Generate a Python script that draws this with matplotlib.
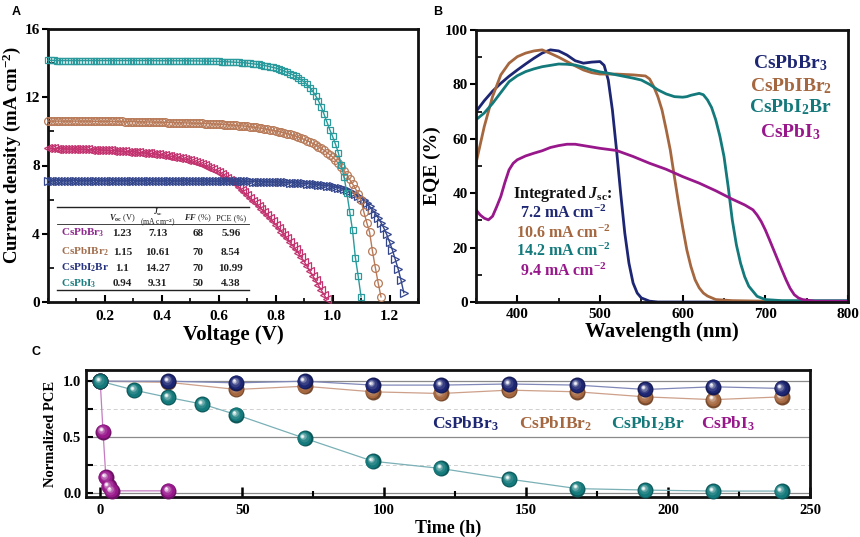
import numpy as np
import matplotlib
matplotlib.use("Agg")
import matplotlib.pyplot as plt
import matplotlib.colors as mcolors
from matplotlib.transforms import offset_copy
from matplotlib.ticker import MultipleLocator

plt.rcParams['font.family'] = ['Liberation Serif', 'DejaVu Serif']
plt.rcParams['font.weight'] = 'bold'
plt.rcParams['mathtext.fontset'] = 'custom'
plt.rcParams['mathtext.rm'] = 'Liberation Serif:bold'
plt.rcParams['mathtext.bf'] = 'Liberation Serif:bold'
plt.rcParams['mathtext.it'] = 'Liberation Serif:italic:bold'
plt.rcParams['mathtext.default'] = 'rm'

# ---------------- Panel A : J-V data (0.01 V sweep step) ----------------
V_STEP = 0.01
jv_cspbi2br = [
    14.16, 14.16, 14.16, 14.15, 14.15, 14.15, 14.15, 14.15, 14.15, 14.15,
    14.15, 14.15, 14.15, 14.15, 14.15, 14.15, 14.15, 14.15, 14.15, 14.15,
    14.15, 14.15, 14.15, 14.15, 14.15, 14.15, 14.15, 14.15, 14.15, 14.15,
    14.15, 14.15, 14.15, 14.15, 14.15, 14.15, 14.15, 14.15, 14.14, 14.14,
    14.14, 14.14, 14.14, 14.14, 14.14, 14.14, 14.14, 14.14, 14.14, 14.14,
    14.13, 14.13, 14.13, 14.13, 14.12, 14.12, 14.12, 14.11, 14.11, 14.10,
    14.10, 14.09, 14.09, 14.08, 14.07, 14.06, 14.05, 14.04, 14.03, 14.02,
    14.00, 13.98, 13.96, 13.94, 13.92, 13.89, 13.86, 13.83, 13.79, 13.75,
    13.71, 13.66, 13.60, 13.53, 13.46, 13.39, 13.31, 13.22, 13.12, 13.01,
    12.90, 12.75, 12.57, 12.36, 12.10, 11.80, 11.45, 11.00, 10.55, 10.10,
    9.70, 9.25, 8.75, 8.05, 7.35, 6.40, 5.30, 4.20, 2.60, 1.50,
    0.30,
]
jv_cspbibr2 = [
    10.60, 10.60, 10.60, 10.60, 10.60, 10.60, 10.60, 10.60, 10.60, 10.60,
    10.60, 10.60, 10.60, 10.60, 10.60, 10.60, 10.59, 10.59, 10.59, 10.59,
    10.59, 10.59, 10.59, 10.58, 10.58, 10.58, 10.58, 10.57, 10.57, 10.57,
    10.57, 10.56, 10.56, 10.56, 10.55, 10.55, 10.55, 10.54, 10.54, 10.54,
    10.53, 10.53, 10.52, 10.52, 10.52, 10.51, 10.51, 10.50, 10.50, 10.49,
    10.49, 10.48, 10.48, 10.47, 10.47, 10.46, 10.45, 10.45, 10.44, 10.43,
    10.42, 10.41, 10.40, 10.39, 10.38, 10.37, 10.35, 10.34, 10.32, 10.31,
    10.29, 10.27, 10.25, 10.23, 10.20, 10.18, 10.15, 10.12, 10.09, 10.06,
    10.03, 9.99, 9.95, 9.91, 9.87, 9.82, 9.77, 9.72, 9.66, 9.60,
    9.53, 9.46, 9.38, 9.30, 9.21, 9.11, 9.00, 8.89, 8.76, 8.63,
    8.50, 8.32, 8.13, 7.92, 7.70, 7.45, 7.18, 6.92, 6.65, 6.32,
    5.95, 5.25, 4.65, 4.08, 2.98, 2.02, 1.12, 0.30,
]
jv_cspbbr3 = [
    7.12, 7.12, 7.12, 7.12, 7.12, 7.12, 7.12, 7.12, 7.12, 7.12,
    7.12, 7.12, 7.12, 7.12, 7.12, 7.12, 7.12, 7.12, 7.12, 7.12,
    7.12, 7.12, 7.11, 7.11, 7.11, 7.11, 7.11, 7.11, 7.11, 7.11,
    7.11, 7.11, 7.11, 7.11, 7.11, 7.11, 7.11, 7.10, 7.10, 7.10,
    7.10, 7.10, 7.10, 7.10, 7.10, 7.10, 7.10, 7.10, 7.10, 7.10,
    7.10, 7.10, 7.09, 7.09, 7.09, 7.09, 7.09, 7.09, 7.09, 7.09,
    7.09, 7.09, 7.08, 7.08, 7.08, 7.08, 7.08, 7.08, 7.07, 7.07,
    7.07, 7.07, 7.06, 7.06, 7.06, 7.05, 7.05, 7.05, 7.04, 7.04,
    7.03, 7.03, 7.02, 7.02, 7.01, 7.00, 6.99, 6.98, 6.97, 6.96,
    6.95, 6.94, 6.93, 6.91, 6.90, 6.88, 6.86, 6.84, 6.82, 6.80,
    6.77, 6.74, 6.70, 6.66, 6.61, 6.55, 6.48, 6.40, 6.31, 6.20,
    6.10, 5.97, 5.80, 5.60, 5.38, 5.17, 4.93, 4.65, 4.33, 3.96,
    3.52, 3.05, 2.50, 1.95, 1.30, 0.55,
]
jv_cspbi3 = [
    9.00, 9.00, 9.00, 8.99, 8.99, 8.98, 8.98, 8.97, 8.97, 8.96,
    8.96, 8.95, 8.95, 8.94, 8.94, 8.93, 8.93, 8.92, 8.92, 8.91,
    8.90, 8.89, 8.88, 8.87, 8.86, 8.85, 8.84, 8.83, 8.82, 8.81,
    8.80, 8.78, 8.77, 8.75, 8.74, 8.72, 8.71, 8.69, 8.67, 8.65,
    8.63, 8.61, 8.58, 8.55, 8.52, 8.49, 8.46, 8.42, 8.38, 8.34,
    8.30, 8.25, 8.20, 8.14, 8.08, 8.01, 7.94, 7.86, 7.78, 7.70,
    7.62, 7.52, 7.40, 7.29, 7.17, 7.05, 6.90, 6.74, 6.58, 6.42,
    6.26, 6.10, 5.94, 5.78, 5.62, 5.45, 5.29, 5.12, 4.93, 4.73,
    4.53, 4.33, 4.13, 3.93, 3.73, 3.52, 3.30, 3.08, 2.86, 2.62,
    2.37, 2.10, 1.82, 1.55, 1.27, 0.98, 0.70, 0.42, 0.15,
]

table_names = ['CsPbBr$_3$', 'CsPbIBr$_2$', 'CsPbI$_2$Br', 'CsPbI$_3$']
table_voc = ['1.23', '1.15', '1.1', '0.94']
table_jsc = ['7.13', '10.61', '14.27', '9.31']
table_ff = ['68', '70', '70', '50']
table_pce = ['5.96', '8.54', '10.99', '4.38']

# ---------------- Panel B : EQE data ----------------
eqe_br3_wl = [350, 360, 370, 380, 390, 400, 410, 420, 430, 440, 450, 460, 470, 480, 490,
              500, 505, 510, 515, 520, 525, 530, 535, 540, 545, 550, 560, 570, 600, 700, 800]
eqe_br3 = [70, 74, 77.5, 80.4, 83, 85.3, 87.5, 89.6, 91.5, 92.7, 92.3, 90.8, 88.7, 87.8, 88.2,
           88.4, 87, 81.6, 70.6, 55.9, 40, 25.3, 14.3, 7, 3.3, 1.5, 0.3, 0, 0, 0, 0]
eqe_ibr2_wl = [350, 360, 370, 380, 390, 400, 410, 420, 430, 440, 450, 460, 470, 480, 490, 500,
               520, 540, 555, 560, 565, 570, 575, 580, 585, 590, 595, 600, 605, 610, 615, 620,
               625, 630, 640, 660, 700, 800]
eqe_ibr2 = [51, 64.5, 75.5, 83.5, 87.8, 90.2, 91.5, 92.3, 92.7, 91.4, 90, 88.4, 86.8, 85.3, 84.3,
            83.8, 83.8, 83.5, 83.1, 82, 79.2, 75.5, 70.6, 63.5, 55.9, 46, 36.4, 27.5, 19.2, 13,
            8.2, 5.2, 3.3, 2.2, 0.9, 0.5, 0.3, 0.2]
eqe_i2br_wl = [350, 360, 370, 380, 390, 400, 410, 420, 430, 440, 450, 460, 470, 480, 490, 500,
               510, 520, 530, 540, 550, 560, 570, 580, 590, 600, 605, 610, 620, 625, 630, 635,
               640, 645, 650, 655, 660, 665, 670, 675, 680, 690, 700, 720, 800]
eqe_i2br = [67, 69.5, 73, 77, 81, 83.2, 84.7, 85.7, 86.5, 87, 87.5, 87.4, 87.1, 86.3, 85.3, 84.6,
            84.1, 83.5, 82.9, 82.3, 81.6, 80, 78, 76.5, 75.5, 75.3, 75.5, 76, 76.7, 76.2, 74.3,
            71.5, 67, 61, 53.5, 42.5, 30.2, 21, 14.3, 9.3, 5.8, 2.1, 0.9, 0.5, 0.5]
eqe_i3_wl = [350, 355, 360, 365, 370, 375, 380, 385, 390, 395, 400, 410, 420, 430, 440, 450,
             460, 470, 480, 490, 500, 520, 540, 560, 580, 600, 620, 640, 660, 675, 685, 690,
             695, 700, 705, 710, 715, 720, 725, 730, 735, 740, 745, 760, 800]
eqe_i3 = [33.9, 32, 30.8, 30.2, 31.5, 35, 38.8, 44, 48.6, 51, 52.3, 53.7, 54.7, 55.6, 56.8, 57.5,
          58, 58, 57.5, 57, 56.5, 55.7, 53.5, 51, 48.8, 46.1, 43.7, 40.9, 37.8, 35.7, 33.9, 32,
          29.6, 26.5, 22.9, 19.2, 15.5, 11.8, 8.2, 5, 2.7, 1.5, 0.9, 0.3, 0.3]
eqe_names = ['CsPbBr$_3$', 'CsPbIBr$_2$', 'CsPbI$_2$Br', 'CsPbI$_3$']
integrated_jsc = ['7.2 mA cm$^{-2}$', '10.6 mA cm$^{-2}$', '14.2 mA cm$^{-2}$', '9.4 mA cm$^{-2}$']

# ---------------- Panel C : stability data ----------------
t_br3 = [0, 24, 48, 72, 96, 120, 144, 168, 192, 216, 240]
pce_br3 = [1.0, 1.0, 0.985, 1.0, 0.965, 0.965, 0.975, 0.965, 0.926, 0.95, 0.935]
t_ibr2 = [0, 24, 48, 72, 96, 120, 144, 168, 192, 216, 240]
pce_ibr2 = [1.0, 0.99, 0.926, 0.955, 0.905, 0.89, 0.92, 0.905, 0.86, 0.835, 0.86]
t_i2br = [0, 12, 24, 36, 48, 72, 96, 120, 144, 168, 192, 216, 240]
pce_i2br = [1.0, 0.92, 0.855, 0.795, 0.70, 0.49, 0.285, 0.22, 0.125, 0.04, 0.027, 0.018, 0.018]
t_i3 = [0, 1, 2, 3, 4, 24]
pce_i3 = [1.0, 0.55, 0.14, 0.06, 0.02, 0.02]

# colours
NAVY, BROWN, TEAL, MAG = '#1d2672', '#a5673f', '#13797b', '#98188c'

fig = plt.figure(figsize=(8.6, 5.37), dpi=100, facecolor='white')


def style_axes(ax, lw=2.0):
    for s in ax.spines.values():
        s.set_linewidth(lw)
        s.set_color('#111111')


# ================= Panel A =================
axA = fig.add_axes([48/860, 1-302/537, 370/860, 273/537])
style_axes(axA)
series_A = [
    (jv_cspbi3, '<', '#c2336f', 6.2),
    (jv_cspbbr3, '>', '#34468c', 5.8),
    (jv_cspbibr2, 'o', '#b87a58', 5.6),
    (jv_cspbi2br, 's', '#2a9a9c', 5.0),
]
for j, mk, col, ms in series_A:
    v = np.arange(len(j)) * V_STEP
    axA.plot(v, j, color=col, lw=1.0, marker=mk, ms=ms, mfc='none', mec=col,
             mew=0.9, clip_on=False, zorder=3)
axA.set_xlim(0, 1.3)
axA.set_ylim(0, 16)
axA.set_xticks([0.2, 0.4, 0.6, 0.8, 1.0, 1.2])
axA.xaxis.set_minor_locator(MultipleLocator(0.1))
axA.set_yticks([0, 4, 8, 12, 16])
axA.yaxis.set_minor_locator(MultipleLocator(2))
axA.tick_params(axis='x', which='major', direction='in', length=5, width=1.5, labelsize=11, pad=6)
axA.tick_params(axis='x', which='minor', direction='in', length=3, width=1.2)
axA.tick_params(axis='y', which='major', direction='out', length=4, width=1.5, labelsize=11, pad=2)
axA.tick_params(axis='y', which='minor', direction='in', length=4, width=1.2)
axA.set_xlabel('Voltage (V)', fontsize=15, fontweight='bold', labelpad=1)
axA.set_ylabel('Current density (mA cm$^{-2}$)', fontsize=13.5, fontweight='bold')
axA.yaxis.set_label_coords(-0.068, 0.54)

# table in panel A (data coordinates)
tab_colors = ['#8e2a8e', '#a26f4e', '#27337f', '#1d7e80']
row_y = [4.04, 2.93, 1.99, 1.06]
col_x = [0.261, 0.385, 0.526, 0.642]
axA.plot([0.032, 0.706], [5.57, 5.57], color='#222222', lw=1.0, zorder=4)
axA.plot([0.032, 0.706], [4.55, 4.55], color='#222222', lw=0.6, zorder=4)
axA.plot([0.032, 0.706], [0.68, 0.68], color='#222222', lw=1.0, zorder=4)
hdr_kw = dict(ha='center', va='center', fontsize=6, fontweight='normal', color='#222222', zorder=5)
axA.text(col_x[0], 4.92, '$\\mathit{V}_{oc}$ (V)', **hdr_kw)
axA.text(col_x[1], 4.95, '$\\mathit{J}_{sc}$\n(mA cm$^{-2}$)', linespacing=0.8, **dict(hdr_kw, fontsize=5.5))
axA.text(col_x[2], 4.92, '$\\mathit{FF}$ (%)', **hdr_kw)
axA.text(col_x[3], 4.92, 'PCE (%)', **hdr_kw)
for i in range(4):
    axA.text(0.046, row_y[i], table_names[i], ha='left', va='center', fontsize=8,
             color=tab_colors[i], zorder=5)
    for cx, val in zip(col_x, [table_voc[i], table_jsc[i], table_ff[i], table_pce[i]]):
        axA.text(cx, row_y[i], val, ha='center', va='center', fontsize=8, color='#222222', zorder=5)

# ================= Panel B =================
axB = fig.add_axes([476/860, 1-302/537, 372/860, 272/537])
style_axes(axB)
for wl, e, col in [(eqe_br3_wl, eqe_br3, NAVY), (eqe_ibr2_wl, eqe_ibr2, BROWN),
                   (eqe_i2br_wl, eqe_i2br, TEAL), (eqe_i3_wl, eqe_i3, MAG)]:
    axB.plot(wl, e, color=col, lw=2.0, solid_capstyle='round')
axB.set_xlim(350, 800)
axB.set_ylim(0, 100)
axB.set_xticks([400, 500, 600, 700, 800])
axB.xaxis.set_minor_locator(MultipleLocator(50))
axB.yaxis.set_major_locator(MultipleLocator(20))
axB.yaxis.set_minor_locator(MultipleLocator(10))
axB.tick_params(axis='x', which='major', direction='in', length=5, width=1.5, labelsize=11, pad=4)
axB.tick_params(axis='x', which='minor', direction='in', length=3, width=1.2)
axB.tick_params(axis='y', which='major', direction='out', length=4, width=1.5, labelsize=11, pad=2)
axB.tick_params(axis='y', which='minor', direction='in', length=4, width=1.2)
axB.set_xlabel('Wavelength (nm)', fontsize=15, fontweight='bold', labelpad=1)
axB.set_ylabel('EQE (%)', fontsize=14, fontweight='bold')
axB.yaxis.set_label_coords(-0.095, 0.5)
for name, col, yy in zip(eqe_names, [NAVY, BROWN, TEAL, MAG], [87.9, 79.4, 71.7, 62.5]):
    axB.text(730.6, yy, name, ha='center', va='center', fontsize=14, color=col)
axB.text(455.5, 39.7, 'Integrated $\\mathit{J}_{sc}$:', ha='center', va='center', fontsize=11.5,
         color='#111111')
for s, col, yy in zip(integrated_jsc, [NAVY, BROWN, TEAL, MAG], [32.7, 25.4, 18.75, 11.4]):
    axB.text(455.5, yy, s, ha='center', va='center', fontsize=11.5, color=col)

# ================= Panel C =================
axC = fig.add_axes([86/860, 1-497/537, 724/860, 127/537])
style_axes(axC)
axC.set_xlim(-5, 250)
axC.set_ylim(-0.035, 1.1)
for yv in [0.0, 0.5, 1.0]:
    axC.axhline(yv, color='#8a8a8a', lw=0.9, zorder=1)
for yv in [0.25, 0.75]:
    axC.axhline(yv, color='#d0d0d0', lw=0.7, ls=(0, (4, 3)), zorder=1)


def sphere(ax, x, y, color, size=11.5, z=4):
    base = np.array(mcolors.to_rgb(color))
    ax.plot(x, y, 'o', ms=size, color=base * 0.72, mec='none', zorder=z, clip_on=False)
    layers = [(0.86, 0.0, 0.03), (0.62, 0.12, 0.07), (0.42, 0.35, 0.11), (0.26, 0.7, 0.14),
              (0.15, 0.95, 0.15)]
    for k, (f, t, off) in enumerate(layers):
        c = base * (1 - t) + t
        tr = offset_copy(ax.transData, fig=ax.figure, x=-off * size, y=off * size, units='points')
        ax.plot(x, y, 'o', ms=size * f, color=c, mec='none', transform=tr,
                zorder=z + 0.01 * (k + 1), clip_on=False)


series_C = [
    (t_i3, pce_i3, MAG, '#c47cc0', 4),
    (t_ibr2, pce_ibr2, BROWN, '#cda08a', 5),
    (t_br3, pce_br3, NAVY, '#8088b8', 6),
    (t_i2br, pce_i2br, TEAL, '#7ab0b6', 7),
]
for t, p, col, lcol, z in series_C:
    axC.plot(t, p, color=lcol, lw=0.9, zorder=2)
for t, p, col, lcol, z in series_C:
    sphere(axC, t, p, col, z=z)

axC.set_xticks([0, 50, 100, 150, 200, 250])
axC.xaxis.set_minor_locator(MultipleLocator(25))
axC.set_yticks([0.0, 0.5, 1.0])
axC.set_yticklabels(['0.0', '0.5', '1.0'])
axC.yaxis.set_minor_locator(MultipleLocator(0.25))
axC.tick_params(axis='x', which='major', direction='in', length=7, width=1.8, labelsize=10.5, pad=5)
axC.tick_params(axis='x', which='minor', direction='in', length=4, width=1.5)
axC.tick_params(axis='y', which='major', direction='in', length=5, width=1.5, labelsize=10.5)
axC.tick_params(axis='y', which='minor', direction='in', length=5, width=1.5)
axC.set_xlabel('Time (h)', fontsize=13, fontweight='bold', labelpad=2)
axC.set_ylabel('Normalized PCE', fontsize=10.5, fontweight='bold', labelpad=4)
for name, col, xx in zip(eqe_names, [NAVY, BROWN, TEAL, MAG], [128.6, 160.5, 192.8, 221.2]):
    axC.text(xx, 0.616, name, ha='center', va='center', fontsize=12.5, color=col, zorder=8)

# panel letters
for lab, x, y in [('A', 12, 12), ('B', 433, 12), ('C', 32, 352)]:
    fig.text(x/860, 1 - y/537, lab, ha='left', va='center', fontsize=9, fontweight='bold',
             family=['Liberation Sans', 'DejaVu Sans'])

fig.savefig('out.png', dpi=100, facecolor='white')
